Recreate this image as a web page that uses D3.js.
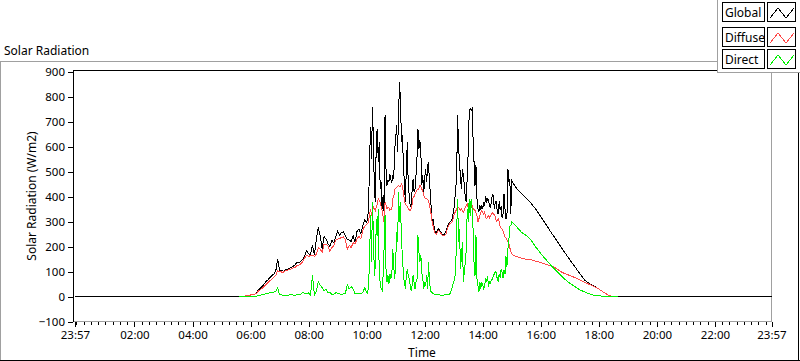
<!DOCTYPE html>
<html><head><meta charset="utf-8">
<script src="https://cdn.jsdelivr.net/npm/d3@7"></script>
<style>
body{margin:0;background:#fff;}
svg{display:block;font-family:"Noto Sans",sans-serif;}
</style></head><body>
<svg id="c" width="800" height="361"></svg>
<script>
// ---------- data ----------
const chartTitle = "Solar Radiation";
const xAxisTitle = "Time";
const yAxisTitle = "Solar Radiation (W/m2)";
const seriesNames = ["Global", "Diffuse", "Direct"];
const timeTickLabels = ["23:57","02:00","04:00","06:00","08:00","10:00","12:00","14:00","16:00","18:00","20:00","22:00","23:57"];
const timeTickMinutes = [-3,120,240,360,480,600,720,840,960,1080,1200,1320,1437];
const yTickValues = [-100,0,100,200,300,400,500,600,700,800,900];
// minutes after midnight of each daytime sample
const sampleMinutes = [
 336,340,344,348,352,356,360,364,368,372,376,380,384,388,392,396,400,404,408,412,416,420,424,428,432,436,440,444,448,452,456,460,464,468,472,476,480,484,488,492,496,500,504,508,512,516,520,524,528,532,536,540,544,548,552,556,560,564,568,572,576,580,584,588,592,596,
 600,602,604,606,608,610,612,614,616,618,620,622,624,626,628,630,632,634,636,638,640,642,644,646,648,650,652,654,656,658,660,662,664,666,668,670,672,674,676,678,680,682,684,686,688,690,692,694,696,698,700,702,704,706,708,710,712,714,716,718,720,722,724,726,728,730,732,734,736,738,740,
 744,748,752,756,760,764,768,772,776,
 780,782,784,786,788,790,792,794,796,798,800,802,804,806,808,810,812,814,816,818,820,822,824,826,828,830,832,834,836,838,840,842,844,846,848,850,852,854,856,858,860,862,864,866,868,870,872,874,876,878,880,882,884,886,888,890,892,894,896,898,900,
 904,910,920,930,940,950,960,970,980,990,1000,1010,1020,1030,1040,1050,1060,1070,1080,1090,1100,1110,1120];
const globalRad = [
 0,1,1,2,3,4,6,7,9,14,27,32,40,50,60,67,75,84,90,101,148,104,104,101,108,109,113,116,121,127,137,134,140,150,164,184,171,168,205,168,230,277,240,192,240,230,211,200,225,214,240,262,245,257,258,244,228,225,220,244,217,260,270,250,285,305,
 295,310,360,540,677,551,757,617,420,377,644,671,537,617,431,457,351,404,337,724,511,444,465,460,490,470,455,480,470,590,630,684,580,737,857,777,617,644,524,457,380,511,617,444,404,364,360,424,471,420,430,484,551,671,591,624,577,445,484,415,471,511,458,524,537,444,417,324,297,311,265,
 255,271,262,250,248,262,284,297,304,
 345,380,430,470,724,600,537,471,431,511,484,444,391,377,484,577,737,751,744,751,631,537,444,524,391,351,337,364,345,364,351,371,364,400,380,390,385,360,358,380,410,400,350,380,380,340,330,380,345,360,315,330,410,351,311,320,511,460,470,330,464,
 450,432,412,392,373,348,319,291,260,232,203,175,147,121,93,67,52,42,30,17,5,0,0];
const diffuseRad = [
 0,1,1,2,3,4,6,7,9,12,22,27,33,40,48,56,63,70,78,84,103,100,98,98,104,105,107,111,115,117,123,125,132,140,155,164,160,164,165,160,170,195,190,176,210,210,204,180,196,202,225,230,232,236,238,228,190,205,195,215,210,230,240,230,265,282,
 288,292,300,330,351,324,340,357,350,344,360,370,391,385,377,360,345,320,297,377,365,351,355,356,345,347,351,390,400,428,433,437,441,444,440,440,450,440,417,385,370,364,360,351,348,344,350,370,395,400,411,418,425,428,432,444,440,430,420,405,395,391,391,388,384,360,351,315,290,280,255,
 250,264,258,244,244,250,277,291,297,
 320,335,340,351,355,357,350,345,350,345,337,345,357,365,371,357,370,377,370,364,351,348,344,335,324,297,310,324,335,344,335,328,337,314,312,318,324,315,320,330,335,331,327,320,300,305,311,300,277,274,270,260,250,237,234,228,220,212,195,180,171,
 164,160,153,149,147,141,136,129,123,115,101,91,84,76,67,57,49,40,30,17,5,0,0];
const directRad = [
 0,0,0,0,0,0,0,0,0,1,4,5,7,9,11,13,15,16,18,20,35,7,6,5,5,5,6,7,6,5,7,8,10,16,12,10,14,6,85,5,20,60,45,35,22,30,15,18,8,8,15,13,11,8,10,12,48,30,40,30,12,10,11,12,15,35,
 15,11,44,144,324,137,377,244,84,124,311,244,351,84,57,31,24,84,191,324,111,57,84,50,91,71,84,191,120,71,137,257,217,417,297,377,217,164,84,57,31,84,111,84,71,44,24,44,84,57,31,57,60,244,177,137,164,97,71,31,57,44,84,31,137,57,24,17,14,11,8,
 7,8,6,5,6,7,8,10,31,
 60,70,110,250,391,217,271,111,164,217,57,100,137,191,351,297,391,324,391,351,271,137,84,244,71,44,17,57,31,57,44,31,44,75,60,80,40,60,55,70,70,85,90,100,95,70,60,90,75,110,97,75,105,90,160,120,190,225,280,285,297,
 291,279,257,244,225,197,172,149,127,107,87,69,53,40,27,19,11,5,3,1,0,0,0];
const dayEdgeMinutes = [-3, 1437]; // Global is logged (as 0) all day

// ---------- layout ----------
const svg = d3.select("#c");
const x = d3.scaleLinear().domain([-3, 1437]).range([75, 771.5]);
const y = d3.scaleLinear().domain([-100, 900]).range([321.5, 71.5]);
const font = "Noto Sans";

// outer panel frame
svg.append("line").attr("x1",0).attr("x2",717).attr("y1",61.5).attr("y2",61.5).attr("stroke","#a0a0a0");
svg.append("line").attr("x1",0.5).attr("x2",0.5).attr("y1",61).attr("y2",361).attr("stroke","#a0a0a0");
svg.append("line").attr("x1",0).attr("x2",800).attr("y1",360.5).attr("y2",360.5).attr("stroke","#000");
svg.append("line").attr("x1",798.5).attr("x2",798.5).attr("y1",72).attr("y2",361).attr("stroke","#000");

// title
svg.append("text").attr("x",4).attr("y",55).attr("font-size",12).attr("fill","#000").text(chartTitle);

// plot frame
svg.append("line").attr("x1",73).attr("x2",772).attr("y1",70.5).attr("y2",70.5).attr("stroke","#000");
svg.append("line").attr("x1",771.5).attr("x2",771.5).attr("y1",71).attr("y2",322).attr("stroke","#a0a0a0");
svg.append("line").attr("x1",73).attr("x2",772).attr("y1",321.5).attr("y2",321.5).attr("stroke","#a0a0a0");
svg.append("line").attr("x1",73.5).attr("x2",73.5).attr("y1",70).attr("y2",322).attr("stroke","#000");

// y axis ticks + labels
const yAxis = d3.axisLeft(y).tickValues(yTickValues).tickSize(5).tickPadding(3).tickFormat(d3.format("d"));
const gy = svg.append("g").attr("transform","translate(73,0)").call(yAxis);
gy.select(".domain").remove();
gy.selectAll(".tick line").attr("stroke","#000").attr("shape-rendering","crispEdges");
gy.selectAll(".tick text").attr("font-family",font).attr("font-size",11.5).attr("fill","#000");

// x axis ticks + labels
const minorTicks = d3.range(0, 1437, 15).filter(m => !timeTickMinutes.includes(m));
const gxMinor = svg.append("g").attr("transform","translate(0,322)")
  .call(d3.axisBottom(x).tickValues(minorTicks).tickSize(3).tickFormat(""));
gxMinor.select(".domain").remove();
gxMinor.selectAll(".tick line").attr("stroke","#000").attr("shape-rendering","crispEdges");
const gx = svg.append("g").attr("transform","translate(0,322)")
  .call(d3.axisBottom(x).tickValues(timeTickMinutes).tickSize(5).tickPadding(4)
    .tickFormat((d,i) => timeTickLabels[i]));
gx.select(".domain").remove();
gx.selectAll(".tick line").attr("stroke","#000").attr("shape-rendering","crispEdges");
gx.selectAll(".tick text").attr("font-family",font).attr("font-size",11.5).attr("fill","#000");

// axis titles
svg.append("text").attr("x",422).attr("y",357).attr("text-anchor","middle").attr("font-size",12).text(xAxisTitle);
svg.append("text").attr("transform","translate(35.5,196) rotate(-90)").attr("text-anchor","middle").attr("font-size",12).text(yAxisTitle);

// series
const line = d3.line().x(d => x(d[0])).y(d => y(d[1]));
const globalPts = [[dayEdgeMinutes[0],0]].concat(sampleMinutes.map((m,i)=>[m,globalRad[i]])).concat([[dayEdgeMinutes[1],0]]);
const diffusePts = sampleMinutes.map((m,i)=>[m,diffuseRad[i]]);
const directPts = sampleMinutes.map((m,i)=>[m,directRad[i]]);
const colors = ["#000000","#ff4848","#00f000"];
const plot = svg.append("g");
[globalPts, diffusePts, directPts].forEach((pts,i) => {
  plot.append("path").attr("d", line(pts)).attr("fill","none").attr("stroke",colors[i])
    .attr("stroke-width",1).attr("shape-rendering","crispEdges");
});

// legend
svg.append("rect").attr("x",717).attr("y",0).attr("width",83).attr("height",72).attr("fill","#fff");
svg.append("line").attr("x1",717.5).attr("x2",717.5).attr("y1",0).attr("y2",73).attr("stroke","#a0a0a0");
svg.append("line").attr("x1",717).attr("x2",800).attr("y1",72.5).attr("y2",72.5).attr("stroke","#a0a0a0");
const rowY = [2, 27, 49];
seriesNames.forEach((name,i) => {
  const g = svg.append("g").attr("transform",`translate(0,${rowY[i]})`);
  g.append("rect").attr("x",722.5).attr("y",0.5).attr("width",42).attr("height",19).attr("fill","#fff").attr("stroke","#000");
  g.append("text").attr("x",725).attr("y",15).attr("font-size",12).text(name);
  g.append("rect").attr("x",767.5).attr("y",0.5).attr("width",28).attr("height",19).attr("fill","#fff").attr("stroke","#000");
  const sw = [[770,16],[778,6],[786,16],[794,6]];
  g.append("path").attr("d", d3.line()(sw)).attr("fill","none").attr("stroke",colors[i]).attr("shape-rendering","crispEdges");
});
</script>
</body></html>
